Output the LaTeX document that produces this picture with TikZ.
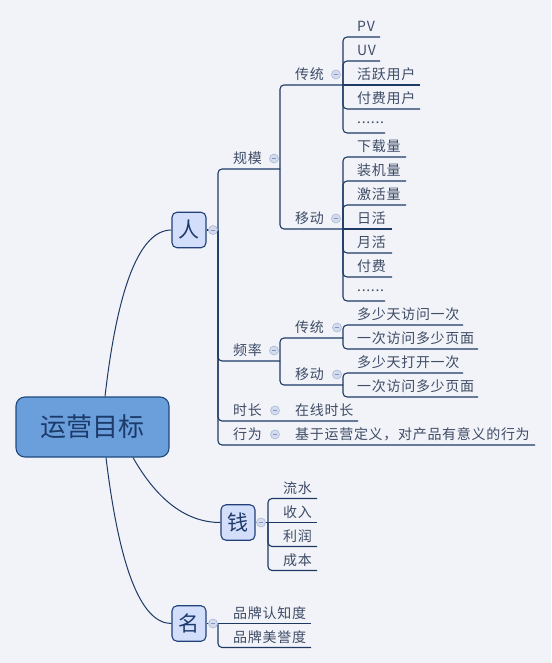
\documentclass[tikz,border=0pt]{standalone}
\usepackage{fontspec}
\newfontfamily\cjk{Noto Sans CJK SC}
\newfontfamily\cjkls[LetterSpace=5]{Noto Sans CJK SC}
\definecolor{bg}{HTML}{F1F3F8}
\definecolor{ln}{HTML}{1E3A64}
\definecolor{txc}{HTML}{3E4C66}
\definecolor{roottxt}{HTML}{1C3A6A}
\definecolor{rootfill}{HTML}{6A9FDC}
\definecolor{rootdraw}{HTML}{1E4A80}
\definecolor{boxfill}{HTML}{D3DEFA}
\definecolor{boxdraw}{HTML}{22407A}
\definecolor{colfill}{HTML}{D3DBEE}
\definecolor{coldraw}{HTML}{A9B7D6}
\definecolor{colminus}{HTML}{8496BF}
\begin{document}
\begin{tikzpicture}[x=1pt,y=-1pt,
  conn/.style={draw=ln,line width=1.1pt,rounded corners=4pt},
  maincurve/.style={draw=ln,line width=1pt},
  lbl/.style={anchor=west,inner sep=0pt,text=txc,font=\cjkls\fontsize{14pt}{16pt}\selectfont},
  rootbox/.style={rectangle,rounded corners=9pt,draw=rootdraw,line width=1.1pt,fill=rootfill,minimum width=153pt,minimum height=60pt,inner sep=0pt,text=roottxt,font=\cjk\fontsize{26pt}{28pt}\selectfont},
  topicbox/.style={rectangle,rounded corners=5pt,draw=boxdraw,line width=1.1pt,fill=boxfill,minimum width=34pt,minimum height=35.5pt,inner sep=0pt,text=roottxt,font=\cjk\fontsize{21pt}{23pt}\selectfont},
  coll/.style={circle,draw=coldraw,fill=colfill,line width=0.6pt,minimum size=9pt,inner sep=0pt,
    path picture={\draw[colminus,line width=0.7pt] ([xshift=-2.4pt]path picture bounding box.center)--([xshift=2.4pt]path picture bounding box.center);}}
]
\useasboundingbox (0,0) rectangle (551,663);
\fill[bg] (0,0) rectangle (551,663);

% main topics
\node[rootbox] (root) at (92.5,427) {运营目标};
\node[topicbox] (ren) at (189,230) {人};
\node[topicbox] (qian) at (238,522.5) {钱};
\node[topicbox] (ming) at (189,623.5) {名};

\draw[maincurve] ([xshift=12.5pt]root.north) .. controls (117.7,285.7) and (140,230) .. (ren.west);
\draw[maincurve] ([xshift=40.5pt]root.south) .. controls (157.7,501) and (187,522.5) .. (qian.west);
\draw[maincurve] ([xshift=13.5pt]root.south) .. controls (119.3,568) and (141,623.5) .. (ming.west);

% 人 subtree
\coordinate (j0) at (218,230);
\draw[conn] (ren.east) -- (j0);
\draw[conn] (j0) -- (218,169) -- (280,169);
\draw[conn] (j0) -- (218,361) -- (280,361);
\draw[conn] (j0) -- (218,421) -- (358,421);
\draw[conn] (j0) -- (218,445) -- (535,445);
\node[lbl] (guimo) at (233,158.5) {规模};
\node[lbl] (pinlv) at (233,350.5) {频率};
\node[lbl] (shichang) at (233,410.5) {时长};
\node[lbl] (xingwei) at (233,434.5) {行为};
\node[lbl] (zaixian) at (295,410.5) {在线时长};
\node[lbl] (jiyu) at (295,434.5) {基于运营定义，对产品有意义的行为};

% 规模
\coordinate (j1) at (280,169);
\draw[conn] (j1) -- (280,85) -- (343,85);
\draw[conn] (j1) -- (280,229) -- (343,229);
\node[lbl] (ct1) at (295,74.5) {传统};
\node[lbl] (yd1) at (295,218.5) {移动};

% 传统 children
\coordinate (j2) at (343,85);
\draw[conn] (j2) -- (343,37) -- (380,37);
\draw[conn] (j2) -- (343,61) -- (380,61);
\draw[conn] (j2) -- (420,85);
\draw[conn] (j2) -- (343,109) -- (420,109);
\draw[conn] (j2) -- (343,133) -- (385,133);
\node[lbl] (pv) at (357,26.5) {PV};
\node[lbl] (uv) at (357,50.5) {UV};
\node[lbl] (huoyue) at (357,74.5) {活跃用户};
\node[lbl] (fufeiyh) at (357,98.5) {付费用户};
\node[lbl] (dots1) at (357,122.5) {......};

% 移动 children
\coordinate (j3) at (343,229);
\draw[conn] (j3) -- (343,157) -- (406,157);
\draw[conn] (j3) -- (343,181) -- (406,181);
\draw[conn] (j3) -- (343,205) -- (406,205);
\draw[conn] (j3) -- (392,229);
\draw[conn] (j3) -- (343,253) -- (392,253);
\draw[conn] (j3) -- (343,277) -- (392,277);
\draw[conn] (j3) -- (343,301) -- (385,301);
\node[lbl] (xiazai) at (357,146.5) {下载量};
\node[lbl] (zhuangji) at (357,170.5) {装机量};
\node[lbl] (jihuo) at (357,194.5) {激活量};
\node[lbl] (rihuo) at (357,218.5) {日活};
\node[lbl] (yuehuo) at (357,242.5) {月活};
\node[lbl] (fufei) at (357,266.5) {付费};
\node[lbl] (dots2) at (357,290.5) {......};

% 频率
\coordinate (j4) at (280,361);
\draw[conn] (j4) -- (280,338) -- (343,338);
\draw[conn] (j4) -- (280,385) -- (343,385);
\node[lbl] (ct2) at (295,327.5) {传统};
\node[lbl] (yd2) at (295,374.5) {移动};
\coordinate (j5) at (343,338);
\draw[conn] (j5) -- (343,325) -- (463,325);
\draw[conn] (j5) -- (343,349) -- (478,349);
\node[lbl] (f1) at (357,314.5) {多少天访问一次};
\node[lbl] (f2) at (357,338.5) {一次访问多少页面};
\coordinate (j6) at (343,385);
\draw[conn] (j6) -- (343,373) -- (463,373);
\draw[conn] (j6) -- (343,397) -- (478,397);
\node[lbl] (f3) at (357,362.5) {多少天打开一次};
\node[lbl] (f4) at (357,386.5) {一次访问多少页面};

% 钱
\coordinate (j7) at (268,522.5);
\draw[conn] (qian.east) -- (j7);
\draw[conn] (j7) -- (268,498.5) -- (317,498.5);
\draw[conn] (j7) -- (317,522.5);
\draw[conn] (j7) -- (268,546.5) -- (317,546.5);
\draw[conn] (j7) -- (268,570.5) -- (317,570.5);
\node[lbl] (liushui) at (283,488) {流水};
\node[lbl] (shouru) at (283,512) {收入};
\node[lbl] (lirun) at (283,536) {利润};
\node[lbl] (chengben) at (283,560) {成本};

% 名
\coordinate (j8) at (218,623.5);
\draw[conn] (ming.east) -- (j8);
\draw[conn] (j8) -- (311,623.5);
\draw[conn] (j8) -- (218,647.5) -- (311,647.5);
\node[lbl] (renzhi) at (233,613) {品牌认知度};
\node[lbl] (meiyu) at (233,637) {品牌美誉度};

% collapse markers
\node[coll] (c0) at (213,230) {};
\node[coll] (c1) at (274,158.5) {};
\node[coll] (c2) at (336,74.5) {};
\node[coll] (c3) at (336,218.5) {};
\node[coll] (c4) at (274,350.5) {};
\node[coll] (c5) at (337,327.5) {};
\node[coll] (c6) at (337,374.5) {};
\node[coll] (c7) at (275,410.5) {};
\node[coll] (c8) at (275,434.5) {};
\node[coll] (c9) at (261,522.5) {};
\node[coll] (c10) at (213,623.5) {};
\end{tikzpicture}
\end{document}
